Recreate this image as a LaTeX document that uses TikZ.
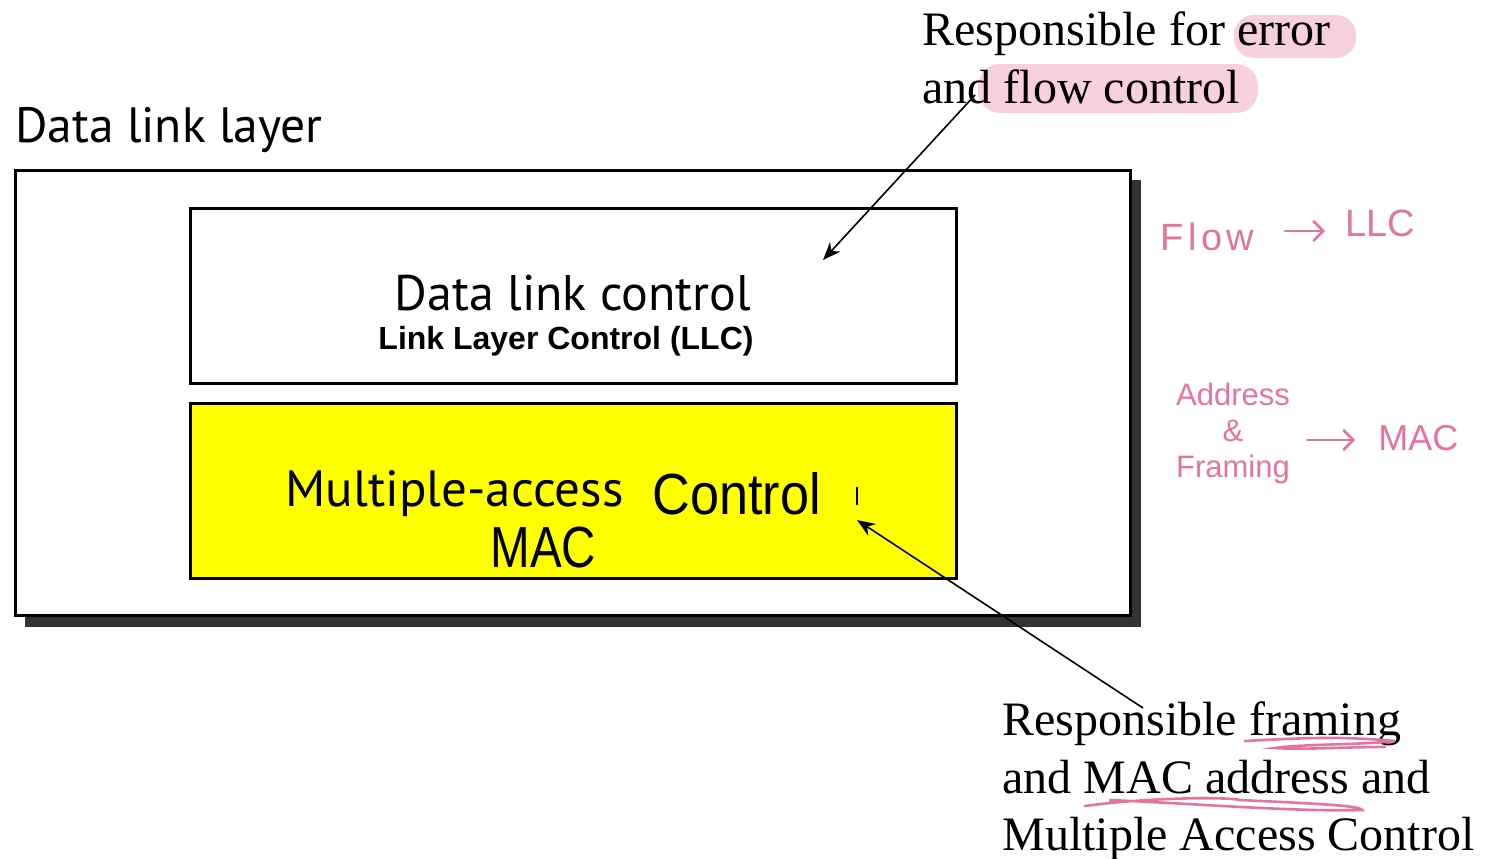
\documentclass[tikz,border=0pt]{standalone}
\usepackage{fontspec}
\setmainfont{Liberation Serif}
\newfontfamily\myriad{PT Sans}
\newfontfamily\arial{Liberation Sans}
\usetikzlibrary{arrows.meta,calc}
\definecolor{hlpink}{HTML}{F6D0DE}
\definecolor{inkpink}{HTML}{E4749F}
\definecolor{shadowgray}{HTML}{333333}
\definecolor{macyellow}{HTML}{FFFF00}
\tikzset{
  layerbox/.style={draw=black, line width=1.5pt, inner sep=0pt},
  serifnote/.style={font=\fontsize{24}{29}\selectfont, anchor=base west, inner sep=0pt},
  ink/.style={text=inkpink, font=\arial\fontsize{19}{22}\selectfont, inner sep=0pt},
  inkarrow/.style={draw=inkpink, line width=1.3pt, line cap=round, -{Straight Barb[length=5pt,width=10pt]}},
  callout/.style={draw=black, line width=0.8pt, -{Stealth[length=9pt,width=7pt]}},
}
\begin{document}
\begin{tikzpicture}[x=0.5pt,y=-0.5pt]
\useasboundingbox (0,0) rectangle (1487,858);
% title
\node[font=\myriad\fontsize{24.8}{28}\selectfont, anchor=base west, inner sep=0pt] (title) at (15,142) {Data link layer};
% outer box with shadow
\fill[shadowgray] (25,180) rectangle (1141,627);
\draw[layerbox, fill=white] (15,170) rectangle (1130,615);
% LLC box
\draw[layerbox, fill=white] (190,208) rectangle (956,383);
\node[font=\myriad\fontsize{25}{28}\selectfont, anchor=base, inner sep=0pt] (dlc) at (573,310) {Data link control};
\node[font=\arial\bfseries\fontsize{16}{19}\selectfont, anchor=base, inner sep=0pt] (llc) at (566,349) {Link Layer Control (LLC)};
% MAC box
\draw[layerbox, fill=macyellow] (190,403) rectangle (956,578);
\node[font=\myriad\fontsize{25.5}{28}\selectfont, anchor=base west, inner sep=0pt] (mac1) at (285,506) {Multiple-access};
\node[font=\arial\fontsize{29}{32}\selectfont, anchor=base west, inner sep=0pt] (mac2) at (652,514) {\scalebox{0.9}[1]{Control}};
\node[font=\arial\fontsize{29}{32}\selectfont, anchor=base west, inner sep=0pt] (mac3) at (490,567) {\scalebox{0.82}[1]{MAC}};
\draw[black, line width=1pt] (857,487) -- (857,505);
% top-right note highlights
\fill[hlpink, rounded corners=10pt] (1234,15) rectangle (1356,58);
\fill[hlpink, rounded corners=11pt] (978,64) rectangle (1258,113);
\node[serifnote] (err1) at (922,45) {Responsible for error};
\node[serifnote] (err2) at (922,103) {and flow control};
\coordinate (errfrom) at (975,95);
\coordinate (errto) at (823,260);
\draw[callout] (errfrom) -- (errto);
% bottom-right note
\node[serifnote] (fr1) at (1002,735) {Responsible framing};
\node[serifnote] (fr2) at (1002,793) {and MAC address and};
\node[serifnote] (fr3) at (1002,850) {Multiple Access Control};
\coordinate (frfrom) at (1143,708);
\coordinate (frto) at (857,520);
\draw[callout] (frfrom) -- (frto);
% pink underlines
\draw[inkpink, line width=1.3pt, line cap=round] (1245,741) .. controls (1300,738) and (1340,736) .. (1395,741)
  .. controls (1360,745) and (1300,744) .. (1275,748) .. controls (1300,750) and (1340,747) .. (1385,747);
\draw[inkpink, line width=1.3pt, line cap=round] (1085,806) .. controls (1150,797) and (1230,797) .. (1240,800)
  .. controls (1300,803) and (1360,805) .. (1362,810) .. controls (1300,812) and (1200,804) .. (1110,800);
% handwritten notes
\node[ink, anchor=base west, font=\arial\fontsize{19}{22}\selectfont\addfontfeature{LetterSpace=12}] (flow) at (1160,250) {Flow};
\node[ink, anchor=base west] (llcnote) at (1345,236) {LLC};
\coordinate (flowarr) at (1285,231);
\coordinate (llcarr) at (1325,231);
\draw[inkarrow] (flowarr) -- (llcarr);
\node[ink, align=center, font=\arial\fontsize{15.5}{18}\selectfont] (addr) at (1233,433) {Address\\\&\\Framing};
\node[ink, anchor=base west, font=\arial\fontsize{18}{22}\selectfont] (macnote) at (1378,450) {MAC};
\coordinate (addrarr) at (1307,440);
\coordinate (macarr) at (1355,440);
\draw[inkarrow] (addrarr) -- (macarr);
\end{tikzpicture}
\end{document}
